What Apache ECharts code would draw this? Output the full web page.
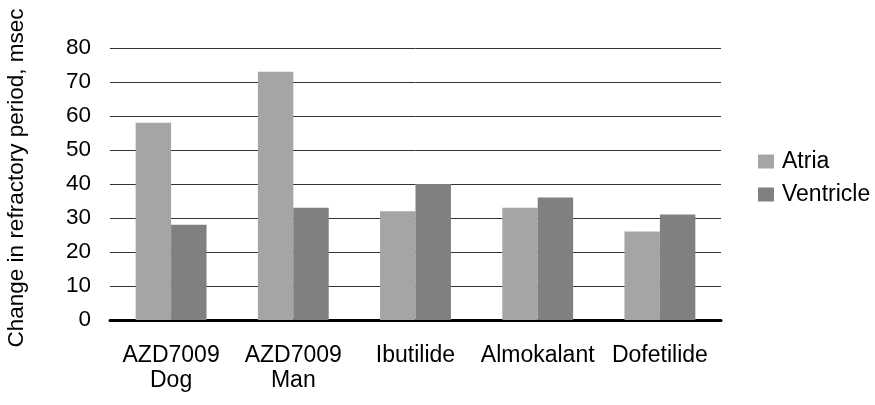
<!DOCTYPE html>
<html>
<head>
<meta charset="utf-8">
<script src="https://cdn.jsdelivr.net/npm/echarts@6/dist/echarts.min.js"></script>
<style>
    html, body { margin: 0; padding: 0; background: #fff; }
    #chart { width: 875px; height: 405px; }
</style>
</head>
<body>
<div id="chart"></div>
<script>
const categories = ['AZD7009\nDog', 'AZD7009\nMan', 'Ibutilide', 'Almokalant', 'Dofetilide'];
const atriaValues = [58, 73, 32, 33, 26];
const ventricleValues = [28, 33, 40, 36, 31];
const yTitle = 'Change in refractory period, msec';

const chart = echarts.init(document.getElementById('chart'));
const font = 'Liberation Sans, Arial, sans-serif';

const option = {
    animation: false,
    textStyle: { fontFamily: font },
    legend: {
        orient: 'vertical',
        left: 753,
        top: 145,
        itemWidth: 16,
        itemHeight: 14,
        itemGap: 10,
        icon: 'rect',
        textStyle: { fontSize: 23, color: '#000', fontFamily: font, padding: [0, 0, 0, 3] },
        data: ['Atria', 'Ventricle']
    },
    grid: {
        left: 110,
        right: 154,
        top: 48,
        bottom: 85
    },
    graphic: [{
        type: 'text',
        rotation: Math.PI / 2,
        x: 17,
        y: 178,
        style: {
            text: yTitle,
            fontSize: 22.5,
            fill: '#000',
            fontFamily: font,
            align: 'center',
            verticalAlign: 'middle'
        }
    }],
    xAxis: {
        type: 'category',
        data: categories,
        axisLine: { lineStyle: { color: '#000', width: 3 } },
        axisTick: { show: false },
        axisLabel: {
            interval: 0,
            color: '#000',
            fontSize: 23,
            lineHeight: 25,
            margin: 23,
            fontFamily: font
        }
    },
    yAxis: {
        type: 'value',
        min: 0,
        max: 80,
        interval: 10,
        axisLine: { show: false },
        axisTick: { show: false },
        axisLabel: { color: '#000', fontSize: 22.5, margin: 19, fontFamily: font },
        splitLine: { lineStyle: { color: '#333', width: 1 } }
    },
    series: [
        {
            name: 'Atria',
            type: 'bar',
            data: atriaValues,
            barGap: '0%',
            barCategoryGap: '42%',
            itemStyle: { color: '#a5a5a5' }
        },
        {
            name: 'Ventricle',
            type: 'bar',
            data: ventricleValues,
            itemStyle: { color: '#808080' }
        }
    ]
};

option && chart.setOption(option);
</script>
</body>
</html>
